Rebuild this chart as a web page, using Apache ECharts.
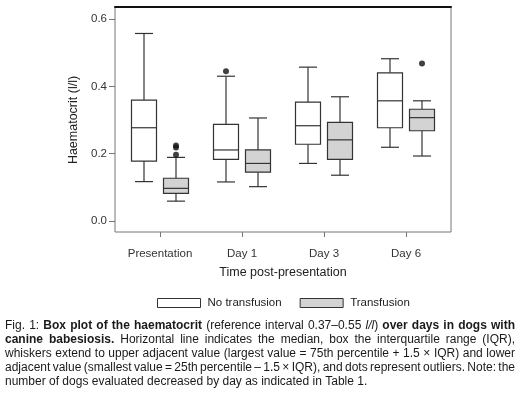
<!DOCTYPE html>
<html>
<head>
<meta charset="utf-8">
<script src="https://cdn.jsdelivr.net/npm/echarts@6/dist/echarts.min.js"></script>
<style>
  html, body { margin: 0; padding: 0; background: #fff; }
  #haematocrit { width: 520px; height: 393px; }
</style>
</head>
<body>
<div id="haematocrit"></div>
<script>
// time points on the x axis
const categories = ["Presentation", "Day 1", "Day 3", "Day 6"];
// box summaries per time point: [lower whisker, Q1, median, Q3, upper whisker]
const noTransfusion = [
  [0.117, 0.178, 0.277, 0.359, 0.557],
  [0.116, 0.183, 0.211, 0.287, 0.430],
  [0.171, 0.228, 0.283, 0.353, 0.457],
  [0.219, 0.277, 0.357, 0.440, 0.482]
];
const transfusion = [
  [0.059, 0.082, 0.097, 0.127, 0.189],
  [0.102, 0.145, 0.171, 0.211, 0.306],
  [0.136, 0.183, 0.241, 0.293, 0.369],
  [0.193, 0.268, 0.307, 0.332, 0.357]
];
// outliers: [time point, value]
const noTransfusionOutliers = [["Day 1", 0.445]];
const transfusionOutliers = [
  ["Presentation", 0.224],
  ["Presentation", 0.218],
  ["Presentation", 0.197],
  ["Day 6", 0.468]
];
// y axis ticks
const yTicks = [0.0, 0.2, 0.4, 0.6];

// figure caption (**bold**, _italic_)
const caption = [
  "Fig. 1: **Box plot of the haematocrit** (reference interval 0.37–0.55 _l/l_) **over days in dogs with**",
  "**canine babesiosis.** Horizontal line indicates the median, box the interquartile range (IQR),",
  "whiskers extend to upper adjacent value (largest value = 75th percentile + 1.5 × IQR) and lower",
  "adjacent value (smallest value = 25th percentile – 1.5 × IQR), and dots represent outliers. Note: the",
  "number of dogs evaluated decreased by day as indicated in Table 1."
];

const FONT = '"Liberation Sans", Arial, sans-serif';
const EDGE = "#333";
const BOX_W = 25;     // box width, px
const CAP_W = 18;     // whisker cap width, px
const SHIFT = 16;     // distance of each box from the tick, px

const chart = echarts.init(document.getElementById("haematocrit"));

// draws one box + whiskers through the axis scales
function boxRenderer(shift, fill) {
  return function (params, api) {
    const i = api.value(0);
    const x = api.coord([i, 0])[0] + shift;
    const y = [1, 2, 3, 4, 5].map(d => api.coord([i, api.value(d)])[1]);
    const line = (x1, y1, x2, y2) => ({
      type: "line",
      shape: { x1, y1, x2, y2 },
      style: { stroke: EDGE, lineWidth: 1.2 }
    });
    return {
      type: "group",
      children: [
        line(x, y[0], x, y[1]),
        line(x, y[3], x, y[4]),
        line(x - CAP_W / 2, y[0], x + CAP_W / 2, y[0]),
        line(x - CAP_W / 2, y[4], x + CAP_W / 2, y[4]),
        {
          type: "rect",
          shape: { x: x - BOX_W / 2, y: y[3], width: BOX_W, height: y[1] - y[3] },
          style: { fill: fill, stroke: EDGE, lineWidth: 1.2 }
        },
        line(x - BOX_W / 2, y[2], x + BOX_W / 2, y[2])
      ]
    };
  };
}

// caption, justified like the printed figure
const CAP_SIZE = 12;
const CAP_LEFT = 5;
const CAP_RIGHT = 515;
const CAP_TOP = 326;
const CAP_LH = 13.8;
const measureCtx = document.createElement("canvas").getContext("2d");
function fontOf(s) {
  return (s === "b" ? "bold " : "") + (s === "i" ? "italic " : "") + CAP_SIZE + "px " + FONT;
}
function toWords(line) {
  const runs = [];
  line.split(/(\*\*[^*]+\*\*|_[^_]+_)/).forEach(part => {
    if (!part) return;
    if (part.startsWith("**")) runs.push({ t: part.slice(2, -2), s: "b" });
    else if (part.startsWith("_")) runs.push({ t: part.slice(1, -1), s: "i" });
    else runs.push({ t: part, s: "n" });
  });
  const words = [];
  let cur = [];
  runs.forEach(r => {
    r.t.split(/( )/).forEach(piece => {
      if (piece === " ") { if (cur.length) words.push(cur); cur = []; }
      else if (piece) cur.push({ t: piece, s: r.s });
    });
  });
  if (cur.length) words.push(cur);
  return words;
}
const rich = {
  n: { fontSize: CAP_SIZE, fontFamily: FONT, fill: "#1a1a1a" },
  b: { fontSize: CAP_SIZE, fontFamily: FONT, fill: "#1a1a1a", fontWeight: "bold" },
  i: { fontSize: CAP_SIZE, fontFamily: FONT, fill: "#1a1a1a", fontStyle: "italic" }
};
const captionGraphics = [];
caption.forEach((line, li) => {
  const words = toWords(line);
  const widths = words.map(w => w.reduce((a, r) => {
    measureCtx.font = fontOf(r.s);
    return a + measureCtx.measureText(r.t).width;
  }, 0));
  measureCtx.font = fontOf("n");
  const space = measureCtx.measureText(" ").width;
  const total = widths.reduce((a, b) => a + b, 0);
  const last = li === caption.length - 1;
  const span = CAP_RIGHT - CAP_LEFT;
  let gap = last ? space : (span - total) / (words.length - 1);
  // squeeze glyphs a little when a line is too long for the column
  const minGap = 1.5;
  let sx = 1;
  if (!last && gap < minGap) {
    gap = minGap;
    sx = (span - minGap * (words.length - 1)) / total;
  }
  let x = CAP_LEFT;
  words.forEach((w, wi) => {
    captionGraphics.push({
      type: "text",
      x: x,
      y: CAP_TOP + li * CAP_LH,
      scaleX: sx,
      style: {
        text: w.map(r => "{" + r.s + "|" + r.t + "}").join(""),
        rich: rich,
        verticalAlign: "middle"
      }
    });
    x += widths[wi] * sx + gap;
  });
});

const option = {
  backgroundColor: "#fff",
  animation: false,
  textStyle: { fontFamily: FONT },
  grid: [
    // outer frame
    { left: 115, top: 7, width: 336, height: 225, show: true, borderColor: "#777", borderWidth: 1, backgroundColor: "transparent", outerBoundsMode: "none" },
    // plotting area
    { left: 119, top: 19, width: 328, height: 202, outerBoundsMode: "none" }
  ],
  xAxis: [
    {
      gridIndex: 0, type: "value", position: "top", min: 0, max: 1,
      axisLine: { show: true, onZero: false, lineStyle: { color: "#111", width: 2 } },
      axisTick: { show: false }, axisLabel: { show: false }, splitLine: { show: false }
    },
    {
      gridIndex: 1, type: "category", data: categories, offset: 11,
      axisLine: { show: false, onZero: false },
      axisTick: { show: true, alignWithLabel: true, interval: 0, length: 5, lineStyle: { color: "#777" } },
      axisLabel: { interval: 0, margin: 16, fontSize: 11.5, color: "#333", fontFamily: FONT },
      splitLine: { show: false },
      name: "Time post-presentation", nameLocation: "middle", nameGap: 34,
      nameTextStyle: { fontSize: 12.5, color: "#222", fontFamily: FONT }
    }
  ],
  yAxis: [
    { gridIndex: 0, type: "value", show: false },
    {
      gridIndex: 1, type: "value", offset: 4,
      min: yTicks[0], max: yTicks[yTicks.length - 1], interval: yTicks[1] - yTicks[0],
      axisLine: { show: false },
      axisTick: { show: true, length: 6, lineStyle: { color: "#777" } },
      axisLabel: { margin: 8, fontSize: 11.5, color: "#333", fontFamily: FONT, formatter: v => v.toFixed(1) },
      splitLine: { show: false },
      name: "Haematocrit (l/l)", nameLocation: "middle", nameGap: 34,
      nameTextStyle: { fontSize: 12.5, color: "#222", fontFamily: FONT }
    }
  ],
  legend: {
    left: 157, top: 297, padding: 0,
    icon: "rect", itemWidth: 43, itemHeight: 9, itemGap: 18,
    textStyle: { fontSize: 11.5, color: "#222", fontFamily: FONT, padding: [0, 0, 0, 2] },
    data: [
      { name: "No transfusion", itemStyle: { color: "#fff", borderColor: EDGE, borderWidth: 1 } },
      { name: "Transfusion", itemStyle: { color: "#d3d3d3", borderColor: EDGE, borderWidth: 1 } }
    ]
  },
  series: [
    {
      name: "No transfusion", type: "custom", xAxisIndex: 1, yAxisIndex: 1,
      renderItem: boxRenderer(-SHIFT, "#fff"),
      itemStyle: { color: "#fff", borderColor: EDGE },
      encode: { x: 0, y: [1, 2, 3, 4, 5] },
      data: noTransfusion.map((q, i) => [i].concat(q))
    },
    {
      name: "Transfusion", type: "custom", xAxisIndex: 1, yAxisIndex: 1,
      renderItem: boxRenderer(SHIFT, "#d3d3d3"),
      itemStyle: { color: "#d3d3d3", borderColor: EDGE },
      encode: { x: 0, y: [1, 2, 3, 4, 5] },
      data: transfusion.map((q, i) => [i].concat(q))
    },
    {
      name: "No transfusion", type: "scatter", xAxisIndex: 1, yAxisIndex: 1,
      symbol: "circle", symbolSize: 6, symbolOffset: [-SHIFT, 0],
      itemStyle: { color: "#111" },
      data: noTransfusionOutliers
    },
    {
      name: "Transfusion", type: "scatter", xAxisIndex: 1, yAxisIndex: 1,
      symbol: "circle", symbolSize: 6, symbolOffset: [SHIFT, 0],
      itemStyle: { color: "#111" },
      data: transfusionOutliers
    }
  ],
  graphic: captionGraphics
};

chart.setOption(option);
</script>
</body>
</html>
